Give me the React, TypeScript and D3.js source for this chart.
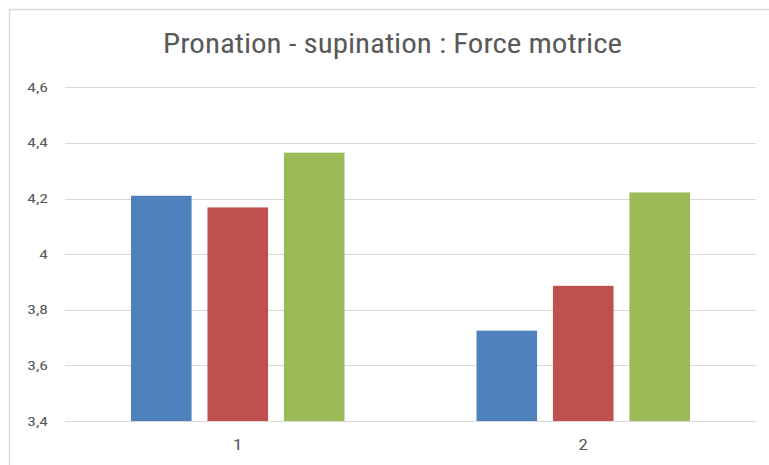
import React, { useEffect, useRef } from "react";
import * as d3 from "d3";

const categories = ["1", "2"];
const seriesNames = ["Série 1", "Série 2", "Série 3"];
const seriesValues = [
  [4.21, 3.725],
  [4.168, 3.886],
  [4.365, 4.222],
];
const seriesColors = ["#4F81BD", "#C0504D", "#9BBB59"];
const yTicks = [3.4, 3.6, 3.8, 4.0, 4.2, 4.4, 4.6];
const title = "Pronation - supination : Force motrice";

const W = 769;
const H = 465;
const FONT = "'Liberation Sans Narrow', 'Roboto Condensed', Roboto, 'Open Sans', sans-serif";

const App = () => {
  const svgRef = useRef<SVGSVGElement>(null);

  useEffect(() => {
    const svg = d3.select(svgRef.current);
    svg.selectAll("*").remove();

    const left = 65;
    const right = 756;
    const top = 87.3;
    const bottom = 421;

    // border of the chart area (only left + top are visible in the crop)
    svg.append("path")
      .attr("d", `M9.5,${H} V9.5 H${W}`)
      .attr("fill", "none")
      .attr("stroke", "#D9D9D9")
      .attr("stroke-width", 1.5);

    svg.append("text")
      .attr("x", 392.5)
      .attr("y", 53)
      .attr("text-anchor", "middle")
      .attr("font-family", FONT)
      .attr("font-size", 27)
      .attr("fill", "#595959")
      .attr("textLength", 459)
      .attr("lengthAdjust", "spacingAndGlyphs")
      .text(title);

    const y = d3.scaleLinear().domain([3.4, 4.6]).range([bottom, top]);
    const x0 = d3.scaleBand().domain(categories).range([left, right]).padding(0);
    const groupPad = 66;
    const x1 = d3.scaleBand<number>()
      .domain(d3.range(seriesNames.length))
      .range([groupPad, x0.bandwidth() - groupPad])
      .paddingInner(16 / 77)
      .paddingOuter(0);

    const fmt = (v: number) => (Math.abs(v - 4) < 1e-9 ? "4" : d3.format(".1f")(v).replace(".", ","));

    // gridlines
    svg.append("g")
      .selectAll("line")
      .data(yTicks)
      .enter()
      .append("line")
      .attr("x1", left)
      .attr("x2", right)
      .attr("y1", (d) => Math.round(y(d)) + 0.5)
      .attr("y2", (d) => Math.round(y(d)) + 0.5)
      .attr("stroke", "#D9D9D9")
      .attr("stroke-width", 1.2);

    // tick labels, a bit wide like the original rendering
    svg.append("g")
      .selectAll("text")
      .data(yTicks)
      .enter()
      .append("text")
      .attr("transform", (d) => `translate(48,${y(d) + 4.5}) scale(1.35,1)`)
      .attr("text-anchor", "end")
      .attr("font-family", FONT)
      .attr("font-size", 13)
      .attr("fill", "#595959")
      .text((d) => fmt(d));

    // bars
    const groups = svg.append("g")
      .selectAll("g")
      .data(categories)
      .enter()
      .append("g")
      .attr("transform", (d) => `translate(${x0(d)},0)`);

    groups.selectAll("rect")
      .data((d, ci) => seriesValues.map((vals, si) => ({ si, v: vals[ci] })))
      .enter()
      .append("rect")
      .attr("x", (d) => x1(d.si)!)
      .attr("width", x1.bandwidth())
      .attr("y", (d) => y(d.v))
      .attr("height", (d) => bottom - y(d.v))
      .attr("fill", (d) => seriesColors[d.si]);

    svg.append("g")
      .selectAll("text")
      .data(categories)
      .enter()
      .append("text")
      .attr("transform", (d) => `translate(${x0(d)! + x0.bandwidth() / 2},450) scale(1.35,1)`)
      .attr("text-anchor", "middle")
      .attr("font-family", FONT)
      .attr("font-size", 14)
      .attr("fill", "#595959")
      .text((d) => d);
  }, []);

  return <svg ref={svgRef} width={W} height={H} style={{ display: "block", position: "absolute", left: 0, top: 0, background: "#fff" }} />;
};

export default App;
